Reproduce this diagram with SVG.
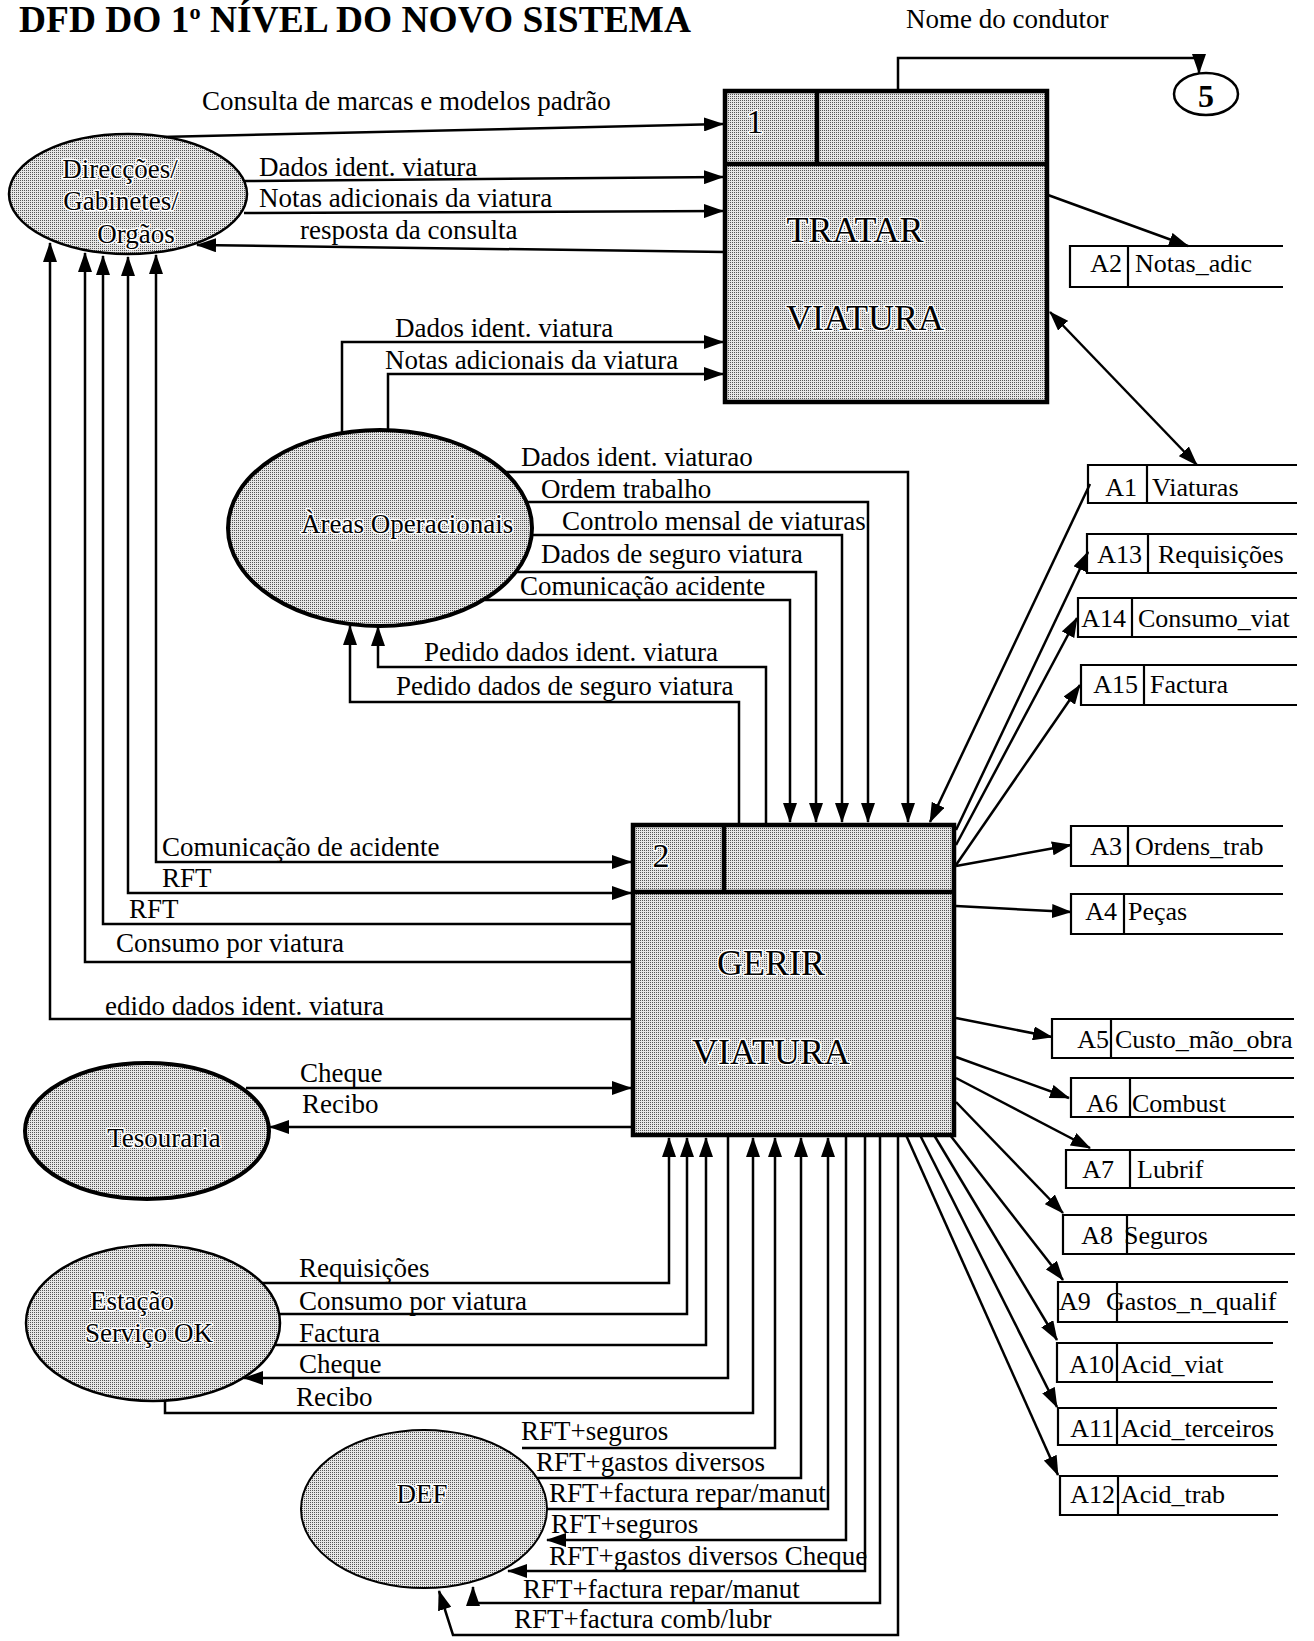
<svg xmlns="http://www.w3.org/2000/svg" width="1314" height="1641" viewBox="0 0 1314 1641">
  <defs>
    <!-- fine halftone grey used by processes and external entities -->
    <pattern id="grey" width="2" height="2" patternUnits="userSpaceOnUse">
      <rect width="2" height="2" fill="#e6e6e6"/>
      <rect width="1" height="1" fill="#555"/>
    </pattern>
    <marker id="ah" viewBox="0 0 20 14" refX="19" refY="7" markerWidth="20" markerHeight="14" markerUnits="userSpaceOnUse" orient="auto-start-reverse">
      <path d="M0,0 L20,7 L0,14 z" fill="#000"/>
    </marker>
    <style>
      text { font-family: "Liberation Serif", "Times New Roman", serif; fill: #000; }
      .lbl { font-size: 27px; }
      .st { font-size: 26px; }
      .big { font-size: 36px; }
      .num { font-size: 34px; }
      .halo { stroke: #fff; stroke-width: 3px; paint-order: stroke; stroke-linejoin: round; }
      .conn { fill: none; stroke: #000; stroke-width: 2.5; }
      .box { fill: url(#grey); stroke: #000; stroke-width: 4.5; }
      .ent { fill: url(#grey); stroke: #000; }
      .store { fill: none; stroke: #000; stroke-width: 2.2; }
      .mid { text-anchor: middle; }
      .end { text-anchor: end; }
    </style>
  </defs>

  <rect width="1314" height="1641" fill="#fff"/>

  <!-- heading -->
  <text x="19" y="32" font-size="37" font-weight="bold" textLength="672" lengthAdjust="spacingAndGlyphs">DFD DO 1<tspan font-size="22" dy="-13">o</tspan><tspan dy="13"> NÍVEL DO NOVO SISTEMA</tspan></text>

  <!-- ===== connectors ===== -->
  <g id="connectors">
    <!-- into process 1 -->
    <path class="conn" d="M160,137 L723,124" marker-end="url(#ah)"/>
    <path class="conn" d="M243,181 L723,177" marker-end="url(#ah)"/>
    <path class="conn" d="M244,213 L723,211" marker-end="url(#ah)"/>
    <path class="conn" d="M725,252 L197,245" marker-end="url(#ah)"/>
    <path class="conn" d="M342,433 V342 H723" marker-end="url(#ah)"/>
    <path class="conn" d="M388,430 V374 H723" marker-end="url(#ah)"/>
    <path class="conn" d="M898,91 V58 H1199 V73" marker-end="url(#ah)"/>
    <path class="conn" d="M1048,195 L1188,246" marker-end="url(#ah)"/>
    <path class="conn" d="M1050,312 L1197,465" marker-start="url(#ah)" marker-end="url(#ah)"/>

    <!-- Areas Operacionais -> process 2 -->
    <path class="conn" d="M505,472 H908 V822" marker-end="url(#ah)"/>
    <path class="conn" d="M527,502 H868 V822" marker-end="url(#ah)"/>
    <path class="conn" d="M531,535 H842 V822" marker-end="url(#ah)"/>
    <path class="conn" d="M516,572 H816 V822" marker-end="url(#ah)"/>
    <path class="conn" d="M485,600 H790 V822" marker-end="url(#ah)"/>
    <!-- process 2 -> Areas Operacionais -->
    <path class="conn" d="M766,825 V667 H378 V627" marker-end="url(#ah)"/>
    <path class="conn" d="M739,825 V702 H350 V626" marker-end="url(#ah)"/>

    <!-- process 2 <-> Direccoes -->
    <path class="conn" d="M633,1019 H50 V243" marker-end="url(#ah)"/>
    <path class="conn" d="M633,962 H85 V253" marker-end="url(#ah)"/>
    <path class="conn" d="M633,924 H103 V256" marker-end="url(#ah)"/>
    <path class="conn" d="M631,893 H128 V257" marker-start="url(#ah)" marker-end="url(#ah)"/>
    <path class="conn" d="M631,862 H156 V255" marker-start="url(#ah)" marker-end="url(#ah)"/>

    <!-- Tesouraria -->
    <path class="conn" d="M246,1088 H631" marker-end="url(#ah)"/>
    <path class="conn" d="M633,1127 H270" marker-end="url(#ah)"/>

    <!-- Estacao Servico OK -->
    <path class="conn" d="M262,1283 H669 V1138" marker-end="url(#ah)"/>
    <path class="conn" d="M279,1314 H687 V1138" marker-end="url(#ah)"/>
    <path class="conn" d="M275,1345 H706 V1138" marker-end="url(#ah)"/>
    <path class="conn" d="M728,1135 V1378 H244" marker-end="url(#ah)"/>
    <path class="conn" d="M165,1400 V1413 H753 V1138" marker-end="url(#ah)"/>

    <!-- DEF -->
    <path class="conn" d="M522,1448 H775 V1138" marker-end="url(#ah)"/>
    <path class="conn" d="M534,1478 H801 V1138" marker-end="url(#ah)"/>
    <path class="conn" d="M546,1509 H828 V1138" marker-end="url(#ah)"/>
    <path class="conn" d="M846,1135 V1540 H547" marker-end="url(#ah)"/>
    <path class="conn" d="M865,1135 V1571 H508" marker-end="url(#ah)"/>
    <path class="conn" d="M880,1135 V1603 H473 V1587" marker-end="url(#ah)"/>
    <path class="conn" d="M898,1135 V1635 H453 L439,1591" marker-end="url(#ah)"/>

    <!-- process 2 <-> data stores -->
    <path class="conn" d="M1090,484 L930,822" marker-end="url(#ah)"/>
    <path class="conn" d="M956,830 L1088,552" marker-end="url(#ah)"/>
    <path class="conn" d="M956,845 L1077,618" marker-end="url(#ah)"/>
    <path class="conn" d="M956,865 L1080,685" marker-end="url(#ah)"/>
    <path class="conn" d="M956,866 L1071,845" marker-end="url(#ah)"/>
    <path class="conn" d="M956,906 L1071,912" marker-end="url(#ah)"/>
    <path class="conn" d="M956,1018 L1052,1037" marker-end="url(#ah)"/>
    <path class="conn" d="M956,1057 L1069,1098" marker-end="url(#ah)"/>
    <path class="conn" d="M956,1078 L1090,1148" marker-end="url(#ah)"/>
    <path class="conn" d="M956,1102 L1063,1213" marker-end="url(#ah)"/>
    <path class="conn" d="M950,1135 L1063,1280" marker-end="url(#ah)"/>
    <path class="conn" d="M934,1135 L1057,1340" marker-end="url(#ah)"/>
    <path class="conn" d="M920,1135 L1057,1407" marker-end="url(#ah)"/>
    <path class="conn" d="M906,1135 L1058,1475" marker-end="url(#ah)"/>
  </g>

  <!-- ===== flow labels ===== -->
  <g id="flow-labels" class="lbl">
    <text x="906" y="28">Nome do condutor</text>
    <text x="202" y="110">Consulta de marcas e modelos padrão</text>
    <text x="259" y="176">Dados ident. viatura</text>
    <text x="259" y="207">Notas adicionais da viatura</text>
    <text x="300" y="239">resposta da consulta</text>
    <text x="395" y="337">Dados ident. viatura</text>
    <text x="385" y="369">Notas adicionais da viatura</text>

    <text x="521" y="466">Dados ident. viaturao</text>
    <text x="541" y="498">Ordem trabalho</text>
    <text x="562" y="530">Controlo mensal de viaturas</text>
    <text x="541" y="563">Dados de seguro viatura</text>
    <text x="520" y="595">Comunicação acidente</text>
    <text x="424" y="661">Pedido dados ident. viatura</text>
    <text x="396" y="695">Pedido dados de seguro viatura</text>

    <text x="162" y="856">Comunicação de acidente</text>
    <text x="162" y="887">RFT</text>
    <text x="129" y="918">RFT</text>
    <text x="116" y="952">Consumo por viatura</text>
    <text x="105" y="1015">edido dados ident. viatura</text>
    <text x="300" y="1082">Cheque</text>
    <text x="302" y="1113">Recibo</text>

    <text x="299" y="1277">Requisições</text>
    <text x="299" y="1310">Consumo por viatura</text>
    <text x="299" y="1342">Factura</text>
    <text x="299" y="1373">Cheque</text>
    <text x="296" y="1406">Recibo</text>

    <text x="521" y="1440">RFT+seguros</text>
    <text x="536" y="1471">RFT+gastos diversos</text>
    <text x="549" y="1502">RFT+factura repar/manut</text>
    <text x="551" y="1533">RFT+seguros</text>
    <text x="549" y="1565">RFT+gastos diversos Cheque</text>
    <text x="523" y="1598">RFT+factura repar/manut</text>
    <text x="514" y="1628">RFT+factura comb/lubr</text>
  </g>

  <!-- ===== processes ===== -->
  <g id="process-1">
    <rect class="box" x="725" y="91" width="322" height="311"/>
    <path d="M725,164 H1047 M817,91 V164" stroke="#000" stroke-width="4.5" fill="none"/>
    <text class="num mid halo" x="755" y="133">1</text>
    <text class="big mid halo" x="855" y="242">TRATAR</text>
    <text class="big mid halo" x="865" y="330">VIATURA</text>
  </g>

  <g id="process-2">
    <rect class="box" x="633" y="825" width="321" height="310"/>
    <path d="M633,892 H954 M724,825 V892" stroke="#000" stroke-width="4.5" fill="none"/>
    <text class="num mid halo" x="661" y="867">2</text>
    <text class="big mid halo" x="771" y="975">GERIR</text>
    <text class="big mid halo" x="771" y="1064">VIATURA</text>
  </g>

  <!-- ===== external entities ===== -->
  <g id="entity-direccoes" class="lbl">
    <ellipse class="ent" cx="128" cy="194" rx="119" ry="60" stroke-width="2.5"/>
    <text class="mid halo" x="120" y="178">Direcções/</text>
    <text class="mid halo" x="121" y="210">Gabinetes/</text>
    <text class="mid halo" x="136" y="243">Orgãos</text>
  </g>

  <g id="entity-areas" class="lbl">
    <ellipse class="ent" cx="380" cy="528" rx="152" ry="98" stroke-width="4"/>
    <text class="halo" x="301" y="533">Àreas Operacionais</text>
  </g>

  <g id="entity-tesouraria" class="lbl">
    <ellipse class="ent" cx="147" cy="1131" rx="122" ry="68" stroke-width="4"/>
    <text class="mid halo" x="164" y="1147">Tesouraria</text>
  </g>

  <g id="entity-estacao" class="lbl">
    <ellipse class="ent" cx="153" cy="1323" rx="127" ry="78" stroke-width="2.5"/>
    <text class="mid halo" x="132" y="1310">Estação</text>
    <text class="mid halo" x="149" y="1342">Serviço OK</text>
  </g>

  <g id="entity-def" class="lbl">
    <ellipse class="ent" cx="424" cy="1509" rx="123" ry="79" stroke-width="2"/>
    <text class="mid halo" x="422" y="1503">DEF</text>
  </g>

  <!-- off-page connector -->
  <g id="connector-5">
    <ellipse cx="1206" cy="94" rx="32" ry="21" fill="#fff" stroke="#000" stroke-width="2.5"/>
    <text class="mid" x="1206" y="107" font-size="32" font-weight="bold">5</text>
  </g>

  <!-- ===== data stores ===== -->
  <g id="store-A2" class="st">
    <path class="store" d="M1283,246 H1070 V287 H1283 M1128,246 V287"/>
    <text class="end" x="1122" y="272">A2</text><text x="1135" y="272">Notas_adic</text>
  </g>
  <g id="store-A1" class="st">
    <path class="store" d="M1297,465 H1088 V503 H1297 M1147,465 V503"/>
    <text class="end" x="1137" y="496">A1</text><text x="1152" y="496">Viaturas</text>
  </g>
  <g id="store-A13" class="st">
    <path class="store" d="M1297,534 H1087 V573 H1297 M1148,534 V573"/>
    <text class="end" x="1142" y="563">A13</text><text x="1158" y="563">Requisições</text>
  </g>
  <g id="store-A14" class="st">
    <path class="store" d="M1297,598 H1078 V637 H1297 M1132,598 V637"/>
    <text class="end" x="1126" y="627">A14</text><text x="1138" y="627">Consumo_viat</text>
  </g>
  <g id="store-A15" class="st">
    <path class="store" d="M1297,665 H1081 V705 H1297 M1144,665 V705"/>
    <text class="end" x="1138" y="693">A15</text><text x="1150" y="693">Factura</text>
  </g>
  <g id="store-A3" class="st">
    <path class="store" d="M1283,826 H1071 V866 H1283 M1128,826 V866"/>
    <text class="end" x="1122" y="855">A3</text><text x="1135" y="855">Ordens_trab</text>
  </g>
  <g id="store-A4" class="st">
    <path class="store" d="M1283,894 H1071 V934 H1283 M1124,894 V934"/>
    <text class="end" x="1117" y="920">A4</text><text x="1128" y="920">Peças</text>
  </g>
  <g id="store-A5" class="st">
    <path class="store" d="M1294,1019 H1052 V1058 H1294 M1111,1019 V1058"/>
    <text class="end" x="1109" y="1048">A5</text><text x="1115" y="1048">Custo_mão_obra</text>
  </g>
  <g id="store-A6" class="st">
    <path class="store" d="M1294,1078 H1071 V1117 H1294 M1130,1078 V1117"/>
    <text class="end" x="1118" y="1112">A6</text><text x="1132" y="1112">Combust</text>
  </g>
  <g id="store-A7" class="st">
    <path class="store" d="M1295,1150 H1066 V1188 H1295 M1130,1150 V1188"/>
    <text class="end" x="1114" y="1178">A7</text><text x="1137" y="1178">Lubrif</text>
  </g>
  <g id="store-A8" class="st">
    <path class="store" d="M1295,1215 H1063 V1254 H1295 M1127,1215 V1254"/>
    <text class="end" x="1113" y="1244">A8</text><text x="1124" y="1244">Seguros</text>
  </g>
  <g id="store-A9" class="st">
    <path class="store" d="M1288,1282 H1058 V1322 H1288 M1117,1282 V1322"/>
    <text x="1059" y="1310">A9</text><text x="1106" y="1310">Gastos_n_qualif</text>
  </g>
  <g id="store-A10" class="st">
    <path class="store" d="M1273,1343 H1057 V1382 H1273 M1117,1343 V1382"/>
    <text class="end" x="1114" y="1373">A10</text><text x="1121" y="1373">Acid_viat</text>
  </g>
  <g id="store-A11" class="st">
    <path class="store" d="M1277,1408 H1058 V1445 H1277 M1117,1408 V1445"/>
    <text class="end" x="1114" y="1437">A11</text><text x="1121" y="1437">Acid_terceiros</text>
  </g>
  <g id="store-A12" class="st">
    <path class="store" d="M1278,1476 H1060 V1515 H1278 M1118,1476 V1515"/>
    <text class="end" x="1115" y="1503">A12</text><text x="1121" y="1503">Acid_trab</text>
  </g>
</svg>
